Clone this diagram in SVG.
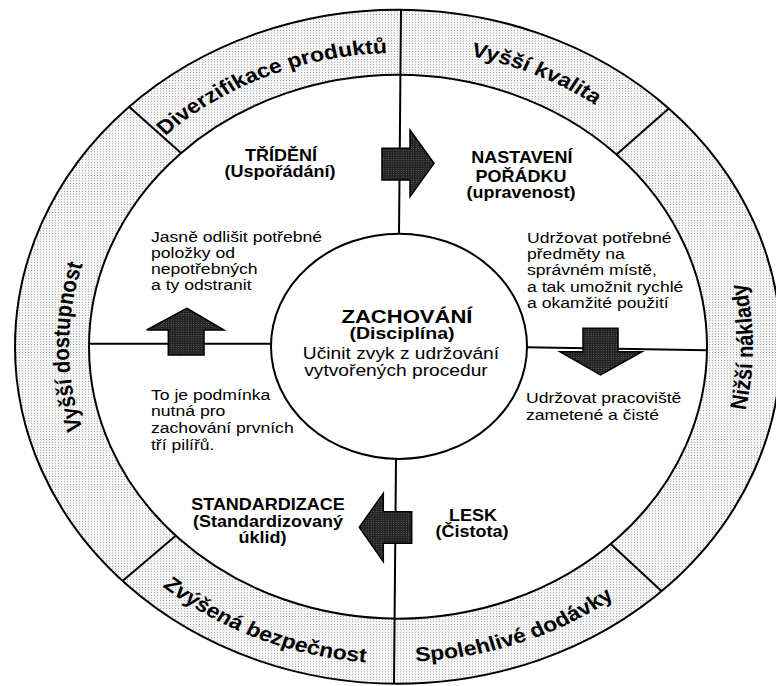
<svg xmlns="http://www.w3.org/2000/svg" width="776" height="686" viewBox="0 0 776 686">
<defs>
<pattern id="ringDots" patternUnits="userSpaceOnUse" width="3" height="3">
<rect width="3" height="3" fill="#f7f7f7"/>
<circle cx="1.5" cy="1.5" r="0.6" fill="#8c8c8c"/>
</pattern>
<pattern id="arrowDots" patternUnits="userSpaceOnUse" width="2.5" height="2.5">
<rect width="2.5" height="2.5" fill="#242424"/>
<circle cx="1.25" cy="1.25" r="0.5" fill="#7a7a7a"/>
</pattern>
<path id="pDiv" d="M 72.6 469.1 A 334 334 0 0 1 678.1 212.1"/>
<path id="pKval" d="M 117.8 205.0 A 338 338 0 0 1 726.0 475.8"/>
<path id="pDost" d="M 340.9 718.0 A 329 329 0 0 1 340.9 70.0"/>
<path id="pNakl" d="M 459.6 743.6 A 355 355 0 0 0 459.6 44.4"/>
<path id="pDod" d="M 88.0 573.0 A 358 358 0 0 0 750.6 331.8"/>
<path id="pBezp" d="M 47.2 313.0 A 360 360 0 0 0 699.9 590.1"/>
</defs>
<style>
.ln{fill:none;stroke:#000;stroke-width:2;vector-effect:non-scaling-stroke}
.ringfill{fill:url(#ringDots);fill-rule:evenodd;stroke:none}
.arrow{fill:url(#arrowDots);stroke:#000;stroke-width:1.5;vector-effect:non-scaling-stroke}
.t{font-family:"Liberation Sans",Arial,Helvetica,sans-serif;fill:#000}
.b{font-weight:bold;font-size:18px}
.r{font-size:17.6px}
.c{text-anchor:middle}
.rl{font-family:"Liberation Sans",Arial,Helvetica,sans-serif;font-weight:bold;font-size:23px;fill:#000}
</style>
<rect width="776" height="686" fill="#fff"/>
<g transform="scale(1,0.88)">
  <g id="ring">
    <path class="ringfill" d="M 15 394 A 383 383 0 1 0 781 394 A 383 383 0 1 0 15 394 Z M 89 394 A 309 309 0 1 0 707 394 A 309 309 0 1 0 89 394 Z"/>
    <circle class="ln" cx="398" cy="394" r="383"/>
    <circle class="ln" cx="398" cy="394" r="309"/>
  </g>
  <g id="dividers">
    <path class="ln" d="M 401 11 L 399 266"/>
    <path class="ln" d="M 396 522 L 394 777"/>
    <path class="ln" d="M 89 390.5 L 270 390.5"/>
    <path class="ln" d="M 526 394.5 L 707 398"/>
    <path class="ln" d="M 129.1 121.3 L 181 174"/>
    <path class="ln" d="M 668.8 123.2 L 616.5 175.5"/>
    <path class="ln" d="M 661.7 671.8 L 610.7 618.1"/>
    <path class="ln" d="M 122.5 660.1 L 175.7 608.7"/>
  </g>
  <g id="seg-diverzifikace"><text class="rl"><textPath href="#pDiv" startOffset="50%" text-anchor="middle">Diverzifikace produktů</textPath></text></g>
  <g id="seg-kvalita"><text class="rl"><textPath href="#pKval" startOffset="50%" text-anchor="middle">Vyšší kvalita</textPath></text></g>
  <g id="seg-naklady"><text class="rl"><textPath href="#pNakl" startOffset="50%" text-anchor="middle">Nižší náklady</textPath></text></g>
  <g id="seg-dodavky"><text class="rl"><textPath href="#pDod" startOffset="50%" text-anchor="middle">Spolehlivé dodávky</textPath></text></g>
  <g id="seg-bezpecnost"><text class="rl"><textPath href="#pBezp" startOffset="50%" text-anchor="middle">Zvýšená bezpečnost</textPath></text></g>
  <g id="seg-dostupnost"><text class="rl"><textPath href="#pDost" startOffset="50%" text-anchor="middle">Vyšší dostupnost</textPath></text></g>

  <g id="node-trideni">
    <text class="t b c" x="281" y="182.5">TŘÍDĚNÍ</text>
    <text class="t b c" x="280" y="201.5">(Uspořádání)</text>
    <text class="t r" x="151" y="274.7">Jasně odlišit potřebné</text>
    <text class="t r" x="151" y="292.8">položky od</text>
    <text class="t r" x="151" y="311.4">nepotřebných</text>
    <text class="t r" x="151" y="329.5">a ty odstranit</text>
  </g>
  <g id="node-nastaveni">
    <text class="t b c" x="522" y="185">NASTAVENÍ</text>
    <text class="t b c" x="521" y="206.5">POŘÁDKU</text>
    <text class="t b c" x="521" y="224.5">(upravenost)</text>
    <text class="t r" x="527" y="275.8">Udržovat potřebné</text>
    <text class="t r" x="527" y="293.8">předměty na</text>
    <text class="t r" x="527" y="312.5">správném místě,</text>
    <text class="t r" x="527" y="331.5">a tak umožnit rychlé</text>
    <text class="t r" x="527" y="349.9">a okamžité použití</text>
  </g>
  <g id="node-lesk">
    <text class="t r" x="526" y="458.3">Udržovat pracoviště</text>
    <text class="t r" x="526" y="477.3">zametené a čisté</text>
    <text class="t b c" x="473" y="592">LESK</text>
    <text class="t b c" x="472" y="610.5">(Čistota)</text>
  </g>
  <g id="node-standardizace">
    <text class="t r" x="151" y="454.5">To je podmínka</text>
    <text class="t r" x="151" y="472.7">nutná pro</text>
    <text class="t r" x="151" y="492.4">zachování prvních</text>
    <text class="t r" x="151" y="511.4">tří pilířů.</text>
    <text class="t b c" x="268" y="579">STANDARDIZACE</text>
    <text class="t b c" x="268" y="598.5">(Standardizovaný</text>
    <text class="t b c" x="262.5" y="616.5">úklid)</text>
  </g>
  <g id="node-zachovani">
    <circle class="ln" cx="399" cy="393.5" r="128" fill="#fff"/>
    <text class="t c" x="407" y="367.5" font-weight="bold" font-size="20" textLength="131" lengthAdjust="spacingAndGlyphs">ZACHOVÁNÍ</text>
    <text class="t c" x="402" y="385.5" font-weight="bold" font-size="19.5">(Disciplína)</text>
    <text class="t c" x="401" y="408.5" font-size="19.2">Učinit zvyk z udržování</text>
    <text class="t c" x="396" y="427.5" font-size="19.2">vytvořených procedur</text>
  </g>
  <g id="connectors">
    <path class="arrow" d="M 382 168.5 L 410 168.5 L 410 147.7 L 434 185.6 L 410 223.5 L 410 204.5 L 382 204.5 Z"/>
    <path class="arrow" d="M 583 373.1 L 618 373.1 L 618 399.7 L 642 399.7 L 600.5 426.1 L 560 399.7 L 583 399.7 Z"/>
    <path class="arrow" d="M 359.3 599.2 L 383.3 560.6 L 383.3 581.5 L 411.7 581.5 L 411.7 617.4 L 383.3 617.4 L 383.3 638.3 Z"/>
    <path class="arrow" d="M 186.7 350.3 L 224 375 L 204 375 L 204 403.4 L 168.3 403.4 L 168.3 375 L 146.7 375 Z"/>
  </g>
</g>
</svg>
